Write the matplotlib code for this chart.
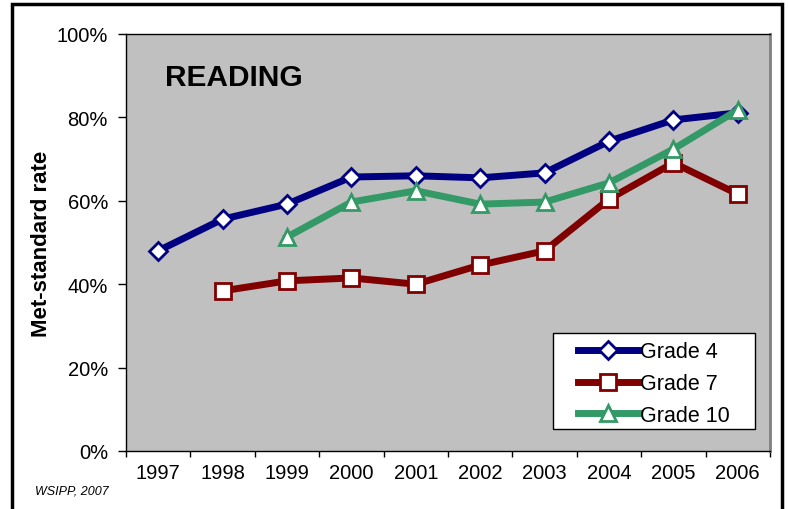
import matplotlib.pyplot as plt
import numpy as np
from matplotlib.patches import Rectangle

plt.rcParams['font.family'] = ['Liberation Sans', 'DejaVu Sans']

years = ["1997", "1998", "1999", "2000", "2001", "2002", "2003", "2004", "2005", "2006"]
grade4 = [48.0, 55.6, 59.2, 65.7, 66.0, 65.5, 66.7, 74.3, 79.4, 81.1]
grade7 = [np.nan, 38.4, 40.8, 41.5, 40.0, 44.6, 48.0, 60.4, 69.1, 61.6]
grade10 = [np.nan, np.nan, 51.3, 59.7, 62.4, 59.2, 59.7, 64.3, 72.4, 81.8]

fig = plt.figure(figsize=(7.88, 5.10), dpi=100)
ax = fig.add_axes([126/788, 1-452/510, 644/788, 417/510])
ax.set_facecolor("#C0C0C0")

x = np.arange(len(years))
ax.plot(x, grade4, color="#000080", lw=5, marker="D", ms=9,
        mfc="white", mec="#000080", mew=2, label="Grade 4", zorder=3)
ax.plot(x, grade7, color="#800000", lw=5, marker="s", ms=12,
        mfc="white", mec="#800000", mew=2, label="Grade 7", zorder=3)
ax.plot(x, grade10, color="#339966", lw=5, marker="^", ms=12,
        mfc="white", mec="#339966", mew=2, label="Grade 10", zorder=4)

ax.set_xlim(-0.5, len(years) - 0.5)
ax.set_ylim(0, 100)
ax.set_yticks(range(0, 101, 20))
ax.set_yticklabels([f"{v}%" for v in range(0, 101, 20)], fontsize=14.5)
ax.set_xticks(x)
ax.set_xticklabels(years, fontsize=14.5)
ax.tick_params(axis="x", length=0, pad=9)
ax.set_xticks(np.arange(-0.5, len(years)), minor=True)
ax.tick_params(axis="x", which="minor", length=4, width=1)
ax.tick_params(axis="y", length=6, width=1, pad=7)

for s in ["left", "bottom", "top"]:
    ax.spines[s].set_color("black")
    ax.spines[s].set_linewidth(1)
ax.spines["right"].set_color("#808080")
ax.spines["right"].set_linewidth(2)

ax.set_ylabel("Met-standard rate", fontsize=16, fontweight="bold", labelpad=3)
ax.text(0.06, 0.897, "READING", transform=ax.transAxes, fontsize=21.5,
        fontweight="bold", va="center", ha="left")

# legend box drawn by hand, legend itself without a frame
ax.add_patch(Rectangle((427/644, 22/417), 202/644, 96/417, transform=ax.transAxes,
                       facecolor="white", edgecolor="black", lw=1, zorder=5))
leg = ax.legend(loc="upper left", bbox_to_anchor=(448/644, 114/417),
                fontsize=15.5, frameon=False, handlelength=2.8,
                handletextpad=0.05, borderpad=0.2, labelspacing=0.5,
                borderaxespad=0)
leg.set_zorder(6)

fig.text(35/788, 1-492/510, "WSIPP, 2007", fontsize=9, style="italic",
         ha="left", va="center")

fig.patches.append(Rectangle((12/788, -0.05), 770/788, 1.05 - 5/510,
                             transform=fig.transFigure, fill=False,
                             edgecolor="black", lw=2.5))

fig.savefig("out.png", dpi=100)
